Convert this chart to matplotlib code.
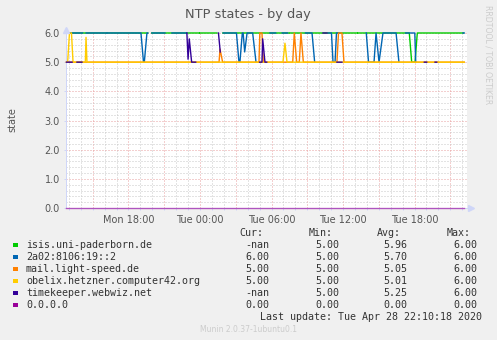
import numpy as np
import matplotlib.pyplot as plt
from matplotlib.lines import Line2D

nan = np.nan

# time in hours since Mon 00:00, values = ntp state
isis_t = [12.8, 16.15, nan, 16.25, 19.62, nan, 19.95, 23.9, nan, 23.98, 25.42, nan,
          25.92, 31.45, nan, 31.55, 37.2, nan, 37.28, 41.56, 41.76, 42.04, 42.23, 46.1]
isis_v = [6, 6, nan, 6, 6, nan, 6, 6, nan, 6, 6, nan,
          6, 6, nan, 6, 6, nan, 6, 6, 5, 5, 6, 6]

ipv6_t = [12.8, 14.15, nan,
          14.45, 16.15, nan,
          16.25, 19.05, 19.26, 19.33, 19.55, 19.62, nan,
          19.97, 21.06, nan,
          21.65, 22.88, nan,
          25.95, 27.06, 27.27, 27.35, 27.55, 27.62, 27.75, 27.95, 28.42, 28.70, nan,
          29.87, 30.35, nan,
          30.9, 31.35, nan,
          32.85, 33.4, 33.62, nan,
          34.75, 35.03, 35.16, 35.33, 35.45, 35.7, nan,
          37.95, 38.14, 38.6, 38.77, 39.02, 39.35, 40.45, 40.69, nan,
          41.25, 42.02, 42.1, nan,
          46.06, 46.17]
ipv6_v = [6, 6, nan,
          6, 6, nan,
          6, 6, 5, 5, 6, 6, nan,
          6, 6, nan,
          6, 6, nan,
          6, 6, 5, 5, 6, 6, 5.35, 6, 6, 5, nan,
          6, 6, nan,
          6, 6, nan,
          6, 6, 5, nan,
          6, 6, 5, 5, 6, 6, nan,
          6, 5, 5, 6, 5, 6, 6, 5, nan,
          6, 6, 5, nan,
          6, 6]

mail_t = [12.8, 25.6, 25.68, 25.9, 28.95, 29.02, 29.2, 29.31, 31.78, 31.91, 32.11,
          32.33, 32.47, 32.67, 35.49, 35.62, 35.91, 36.08, 46.17]
mail_v = [5, 5, 5.45, 5, 5, 6, 6, 5, 5, 6, 5,
          5, 6, 5, 5, 6, 6, 5, 5]

obelix_t = [12.8, 12.9, 13.05, 13.22, 13.35, 14.38, 14.44, 14.52, 30.96, 31.13, 31.3, 46.17]
obelix_v = [5, 5, 6, 6, 5, 5, 5.85, 5, 5, 5.65, 5, 5]

timekeeper_t = [12.8, 13.27, nan, 13.68, 14.1, nan,
                22.9, 23.0, 23.1, 23.3, 23.64, nan,
                25.55, 25.7, nan,
                29.0, 29.2, 29.26, 29.45, 29.6, nan,
                34.32, 34.65, nan,
                35.49, 35.91, nan,
                42.82, 43.02, nan,
                43.72, 43.86]
timekeeper_v = [5, 5, nan, 5, 5, nan,
                6, 5.1, 5.8, 5, 5, nan,
                6, 5.35, nan,
                5, 5, 5.8, 5, 5, nan,
                6, 6, nan,
                5, 5, nan,
                5, 5, nan,
                5, 5]

zero_t = [12.8, 46.17]
zero_v = [0, 0]

names = ['isis.uni-paderborn.de', '2a02:8106:19::2', 'mail.light-speed.de',
         'obelix.hetzner.computer42.org', 'timekeeper.webwiz.net', '0.0.0.0']
colors = ['#00cc00', '#0066b3', '#ff8000', '#ffcc00', '#330099', '#990099']
cur = ['-nan', '6.00', '5.00', '5.00', '-nan', '0.00']
mins = ['5.00', '5.00', '5.00', '5.00', '5.00', '0.00']
avgs = ['5.96', '5.70', '5.05', '5.01', '5.25', '0.00']
maxs = ['6.00', '6.00', '6.00', '6.00', '6.00', '0.00']

tick_hours = [18, 24, 30, 36, 42]
tick_labels = ['Mon 18:00', 'Tue 00:00', 'Tue 06:00', 'Tue 12:00', 'Tue 18:00']

W, H = 497, 340
def fx(x):
    return x / W
def fy(y):
    return 1 - y / H

fig = plt.figure(figsize=(W / 100, H / 100), dpi=100, facecolor='#f0f0f0')
ax = fig.add_axes([fx(66), fy(208), 401 / W, 175 / H])
ax.set_facecolor('white')
ax.set_xlim(12.76, 46.4)
ax.set_ylim(0, 6)

# grid: grey every hour / 0.2, red every 3h / 1.0
px = 0.72
minor_c = '#c8c8c8'
major_c = '#e8a0a0'
for h in range(13, 47):
    ax.axvline(h, color=major_c if h % 3 == 0 else minor_c, lw=px, ls=(0, (1, 2)), zorder=0)
for k in range(1, 31):
    ax.axhline(k * 0.2, color=major_c if k % 5 == 0 else minor_c, lw=px, ls=(0, (1, 2)), zorder=0)

series = [(isis_t, isis_v), (ipv6_t, ipv6_v), (mail_t, mail_v),
          (obelix_t, obelix_v), (timekeeper_t, timekeeper_v), (zero_t, zero_v)]
for (t, v), c in zip(series, colors):
    ax.plot(t, v, color=c, lw=1.0, clip_on=False, zorder=3,
            alpha=0.6 if c == '#990099' else 1)

axis_c = '#cfd6f8'
for s in ['top', 'right']:
    ax.spines[s].set_visible(False)
for s in ['left', 'bottom']:
    ax.spines[s].set_color(axis_c)
    ax.spines[s].set_linewidth(px)

ax.set_yticks(range(7))
ax.set_yticklabels([f'{y:.1f}' for y in range(7)])
ax.set_xticks(tick_hours)
ax.set_xticklabels(tick_labels)
ax.set_xticks(range(13, 47), minor=True)
ax.tick_params(axis='both', which='both', length=1.5, width=px, color=axis_c,
               labelcolor='#555555', labelsize=7)
ax.tick_params(axis='y', pad=3)
ax.tick_params(axis='x', pad=3.5)

# axis arrows
fig.add_artist(Line2D([fx(66)], [fy(29.5)], marker='^', markersize=4, color=axis_c,
                      transform=fig.transFigure, lw=0))
fig.add_artist(Line2D([fx(470.5)], [fy(208)], marker='>', markersize=4, color=axis_c,
                      transform=fig.transFigure, lw=0))

fig.text(fx(248), fy(18.3), 'NTP states - by day', ha='center', va='baseline',
         fontsize=9.3, color='#555555')
fig.text(fx(12), fy(120), 'state', ha='center', va='center', rotation=90,
         fontsize=7, color='#555555')
fig.text(fx(488), fy(5), 'RRDTOOL / TOBI OETIKER', ha='center', va='top',
         rotation=270, fontsize=5.6, color='#cccccc')

# legend table
mono = dict(family='DejaVu Sans Mono', fontsize=7.2, color='#333333', va='baseline')
fig.text(fx(263), fy(236), 'Cur:', ha='right', **mono)
fig.text(fx(332.5), fy(236), 'Min:', ha='right', **mono)
fig.text(fx(401), fy(236), 'Avg:', ha='right', **mono)
fig.text(fx(470.5), fy(236), 'Max:', ha='right', **mono)
for i, name in enumerate(names):
    yb = 248.3 + i * 11.95
    fig.patches.append(plt.Rectangle((fx(13.3), fy(yb - 1)), 4.5 / W, 4.5 / H,
                                     transform=fig.transFigure, facecolor=colors[i],
                                     edgecolor='none'))
    fig.text(fx(26), fy(yb), name, ha='left', **mono)
    fig.text(fx(269), fy(yb), cur[i], ha='right', **mono)
    fig.text(fx(339), fy(yb), mins[i], ha='right', **mono)
    fig.text(fx(407.5), fy(yb), avgs[i], ha='right', **mono)
    fig.text(fx(477), fy(yb), maxs[i], ha='right', **mono)
fig.text(fx(482.5), fy(320), 'Last update: Tue Apr 28 22:10:18 2020', ha='right', **mono)
fig.text(fx(248), fy(332), 'Munin 2.0.37-1ubuntu0.1', ha='center', va='baseline',
         fontsize=5.5, color='#cccccc')

fig.savefig('out.png', dpi=100, facecolor=fig.get_facecolor())
